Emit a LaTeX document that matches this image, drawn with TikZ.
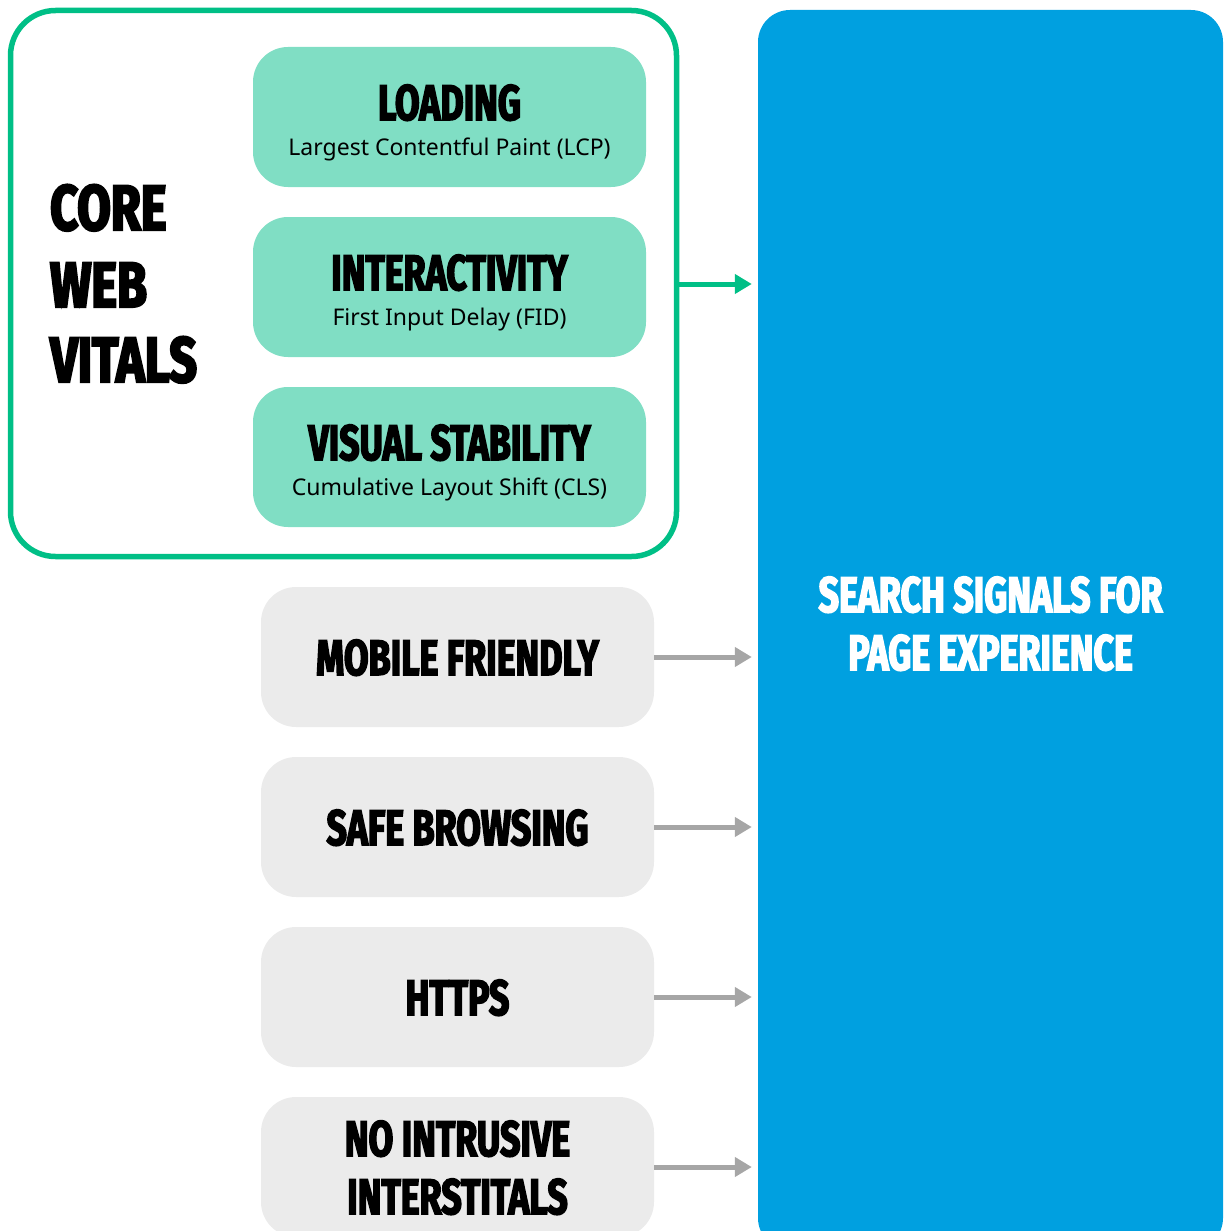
\documentclass[tikz,border=0pt]{standalone}
\usepackage{fontspec}
\setmainfont{Noto Sans}
\newfontfamily\dispfont[FakeStretch=0.715,FakeBold=3]{Fira Sans}
\newfontfamily\bigdispfont[FakeStretch=0.76,FakeBold=3.5]{Fira Sans}
\usetikzlibrary{arrows.meta}
\definecolor{cwvgreen}{HTML}{00BF86}
\definecolor{boxgreen}{HTML}{80DEC4}
\definecolor{boxgrey}{HTML}{EBEBEB}
\definecolor{arrgrey}{HTML}{A6A6A6}
\definecolor{sigblue}{HTML}{00A0E0}
\tikzset{
  cwbox/.style={fill=boxgreen, rounded corners=35pt, minimum width=393pt, minimum height=140pt, inner sep=0pt},
  greybox/.style={fill=boxgrey, rounded corners=35pt, minimum width=393pt, minimum height=140pt, inner sep=0pt},
  frame/.style={draw=cwvgreen, line width=5.5pt, rounded corners=45pt, minimum width=666pt, minimum height=546pt, inner sep=0pt},
  bluebox/.style={fill=sigblue, rounded corners=32pt, minimum width=465pt, minimum height=1240pt, inner sep=0pt},
  title/.style={anchor=base, inner sep=0pt, font=\dispfont\bfseries\fontsize{50}{50}\selectfont},
  bigtitle/.style={anchor=base west, inner sep=0pt, font=\bigdispfont\bfseries\fontsize{64}{64}\selectfont},
  sub/.style={anchor=base, inner sep=0pt, font=\fontsize{23}{23}\selectfont},
  greyarrow/.style={draw=arrgrey, line width=5pt, -{Triangle[length=17pt,width=19pt]}, shorten >=6pt},
  greenarrow/.style={draw=cwvgreen, line width=5pt, -{Triangle[length=17pt,width=19pt]}, shorten >=6pt},
}
\begin{document}
\begin{tikzpicture}[x=1pt,y=-1pt]
\useasboundingbox (0,0) rectangle (1225,1231);
\clip (0,0) rectangle (1225,1231);
% blue target
\node[bluebox] (blue) at (990.5,630) {};
\node[title, text=white] (s1) at (990.5,612) {SEARCH SIGNALS FOR};
\node[title, text=white] (s2) at (990.5,670) {PAGE EXPERIENCE};
% core web vitals frame
\node[frame] (cwv) at (343.5,283.5) {};
\node[bigtitle] (c1) at (50,230) {CORE};
\node[bigtitle] (c2) at (50,307) {WEB};
\node[bigtitle] (c3) at (50,382) {VITALS};
% green boxes
\node[cwbox] (load) at (449.5,117) {};
\node[title] (loadt) at (449.5,120) {LOADING};
\node[sub] (loads) at (449.5,155) {Largest Contentful Paint (LCP)};
\node[cwbox] (inter) at (449.5,287) {};
\node[title] (intert) at (449.5,290) {INTERACTIVITY};
\node[sub] (inters) at (449.5,325) {First Input Delay (FID)};
\node[cwbox] (vis) at (449.5,457) {};
\node[title] (vist) at (449.5,460) {VISUAL STABILITY};
\node[sub] (viss) at (449.5,495) {Cumulative Layout Shift (CLS)};
% grey boxes
\node[greybox] (mob) at (457.5,657) {};
\node[title] (mobt) at (457.5,675) {MOBILE FRIENDLY};
\node[greybox] (safe) at (457.5,827) {};
\node[title] (safet) at (457.5,845) {SAFE BROWSING};
\node[greybox] (https) at (457.5,997) {};
\node[title] (httpst) at (457.5,1015) {HTTPS};
\node[greybox] (nointr) at (457.5,1167) {};
\node[title] (nointrt1) at (457.5,1156) {NO INTRUSIVE};
\node[title] (nointrt2) at (457.5,1214) {INTERSTITALS};
% arrows
\coordinate (ga) at (cwv.east |- 0,284);
\draw[greenarrow] (ga) -- (ga -| blue.west);
\draw[greyarrow] (mob.east) -- (mob.east -| blue.west);
\draw[greyarrow] (safe.east) -- (safe.east -| blue.west);
\draw[greyarrow] (https.east) -- (https.east -| blue.west);
\draw[greyarrow] (nointr.east) -- (nointr.east -| blue.west);
\end{tikzpicture}
\end{document}
